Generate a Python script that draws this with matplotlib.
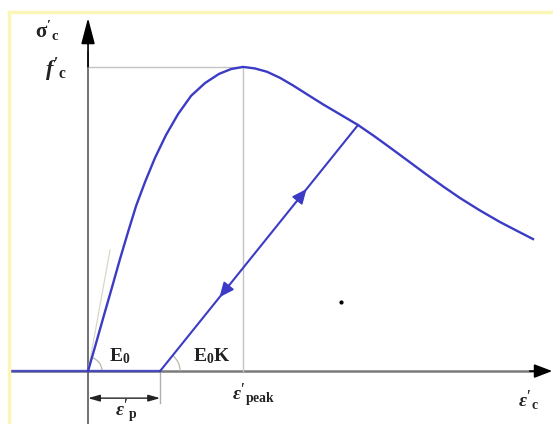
import numpy as np
import matplotlib.pyplot as plt
import matplotlib.patches as mpatches
import matplotlib.transforms as mtransforms
from matplotlib.lines import Line2D

plt.rcParams['mathtext.fontset'] = 'custom'
plt.rcParams['mathtext.rm'] = 'Liberation Serif:bold'
plt.rcParams['mathtext.it'] = 'Liberation Serif:italic:bold'
plt.rcParams['mathtext.bf'] = 'Liberation Serif:bold'

# envelope curve, strain / eps_peak and stress / f'c
strain = [0.000, 0.052, 0.103, 0.155, 0.206, 0.258, 0.310, 0.368, 0.432,
          0.503, 0.581, 0.665, 0.755, 0.845, 0.923, 1.000, 1.077, 1.155,
          1.239, 1.323, 1.419, 1.516, 1.626, 1.742, 1.845, 1.948, 2.065,
          2.187, 2.297, 2.400, 2.529, 2.658, 2.768, 2.871]
stress = [0.000, 0.092, 0.184, 0.276, 0.368, 0.457, 0.543, 0.622, 0.701,
          0.776, 0.845, 0.905, 0.947, 0.977, 0.993, 1.000, 0.995, 0.984,
          0.964, 0.939, 0.908, 0.877, 0.844, 0.809, 0.773, 0.735, 0.691,
          0.645, 0.605, 0.569, 0.528, 0.490, 0.461, 0.434]

eps_peak, f_c = 1.0, 1.0
eps_unload, sig_unload = 1.742, 0.809   # unloading point on the envelope
eps_p = 0.465                           # plastic strain after unloading
tangent_tip = (0.142, 0.398)            # initial modulus E0
speck = (1.632, 0.227)

blue = '#3b3bc6'
grey = '#7a7a7a'

fig = plt.figure(figsize=(5.53, 4.24), dpi=100)
ax = fig.add_axes([0, 0, 1, 1])
ax.set_xlim(-0.568, 3.0)
ax.set_ylim(-0.174, 1.220)
ax.axis('off')

# pale frame
fig.add_artist(Line2D([0.0163, 0.0163], [0, 0.972], transform=fig.transFigure,
                      color='#f9f6b8', lw=2.5))
fig.add_artist(Line2D([0.0163, 1], [0.972, 0.972], transform=fig.transFigure,
                      color='#f9f6b8', lw=2.5))

# axes with arrows
ax.plot([-0.503, 2.9], [0, 0], color=grey, lw=1.8, zorder=1)
ax.annotate('', xy=(2.995, 0), xytext=(2.85, 0),
            arrowprops=dict(arrowstyle='-|>,head_length=1.1,head_width=0.42',
                            color='black', lw=1.2, shrinkA=0, shrinkB=0))
ax.plot([0, 0], [-0.174, 1.05], color='#666666', lw=1.3, zorder=1)
ax.annotate('', xy=(0, 1.161), xytext=(0, 1.0),
            arrowprops=dict(arrowstyle='-|>,head_length=1.6,head_width=0.42',
                            color='black', lw=1.2, shrinkA=0, shrinkB=0))

# peak guide lines
ax.plot([0, eps_peak], [f_c, f_c], color='#c4c4c4', lw=1.0, zorder=1)
ax.plot([eps_peak, eps_peak], [0, f_c], color='#c4c4c4', lw=1.0, zorder=1)
ax.plot([0, tangent_tip[0]], [0, tangent_tip[1]], color='#d8d8c8', lw=0.9, zorder=1)
ax.plot([eps_p, eps_p], [0, -0.105], color='#b0b0b0', lw=1.0, zorder=1)

# envelope, residual branch and reloading path
ax.plot(strain, stress, color=blue, lw=1.7, zorder=3, solid_joinstyle='round')
ax.plot([-0.503, eps_p], [0, 0], color=blue, lw=1.7, alpha=0.8, zorder=2)
ax.plot([eps_p, eps_unload], [0, sig_unload], color=blue, lw=1.5, zorder=3)

def along(t):
    return (eps_p + t * (eps_unload - eps_p), t * sig_unload)

for t0, t1 in [(0.69, 0.74), (0.35, 0.30)]:
    ax.annotate('', xy=along(t1), xytext=along(t0),
                arrowprops=dict(arrowstyle='-|>,head_length=0.9,head_width=0.4',
                                color=blue, lw=1.2, shrinkA=0, shrinkB=0),
                zorder=4)

# modulus angle arcs, radius in pixels
def angle_arc(x0, y0, r, deg):
    tr = mtransforms.ScaledTranslation(x0, y0, ax.transData)
    ax.add_patch(mpatches.Arc((0, 0), 2 * r, 2 * r, theta1=0, theta2=deg,
                              transform=mtransforms.IdentityTransform() + tr,
                              color='#b8b8a8', lw=0.9))

angle_arc(0, 0, 14, 74)
angle_arc(eps_p, 0, 20, 51)

# plastic strain dimension
ax.annotate('', xy=(eps_p, -0.089), xytext=(0, -0.089),
            arrowprops=dict(arrowstyle='<|-|>,head_length=0.7,head_width=0.2',
                            color='#222222', lw=1.0, shrinkA=0, shrinkB=0))

ax.plot(*speck, marker='o', ms=2, color='black')

# labels
ax.text(-0.265, 1.118, r"$\mathbf{\sigma}'_{\mathbf{c}}$", fontsize=15,
        ha='center', va='center', color='#222222')
ax.text(-0.135, 0.99, r"$f'_{\mathbf{c}}$", fontsize=16,
        ha='right', va='center', color='#222222')
ax.text(0.206, 0.048, r"$\mathbf{E_0}$", fontsize=14,
        ha='center', va='center', color='#222222')
ax.text(0.80, 0.048, r"$\mathbf{E_0K}$", fontsize=14,
        ha='center', va='center', color='#222222')
ax.text(0.93, -0.08, r"$\varepsilon'_{\mathbf{peak}}$", fontsize=14,
        ha='left', va='center', color='#222222')
ax.text(0.245, -0.132, r"$\varepsilon'_{\mathbf{p}}$", fontsize=14,
        ha='center', va='center', color='#222222')
ax.text(2.84, -0.095, r"$\varepsilon'_{\mathbf{c}}$", fontsize=14,
        ha='center', va='center', color='#222222')

fig.savefig('out.png', dpi=100)
